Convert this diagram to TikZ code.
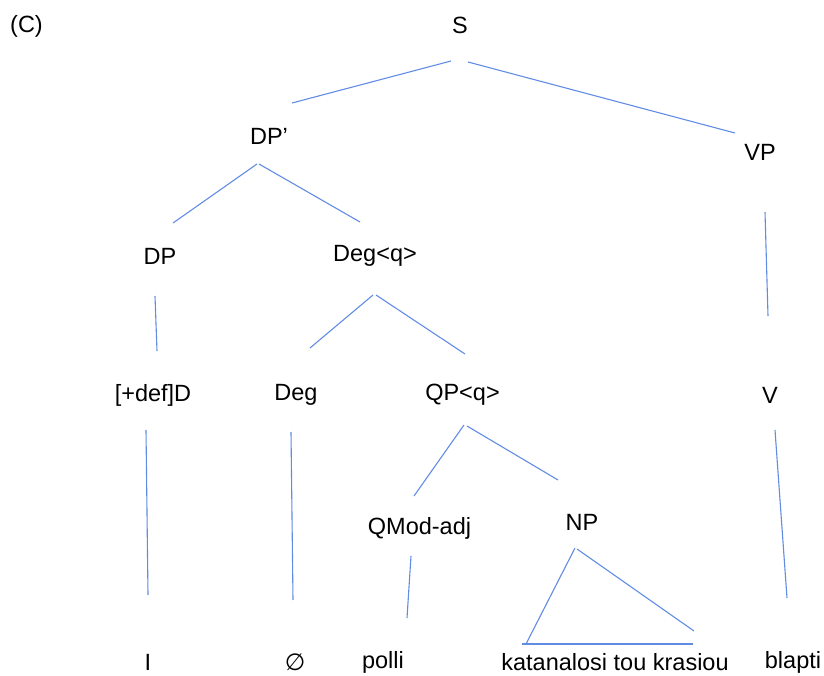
\documentclass[tikz,border=0pt]{standalone}
\usepackage{fontspec}
\setmainfont{Liberation Sans}
\newfontfamily\symfont{DejaVu Sans}
\begin{document}
\begin{tikzpicture}[x=1pt,y=-1pt,
  lbl/.style={inner sep=0pt,font=\fontsize{23.5}{28}\selectfont},
  branch/.style={draw={rgb,255:red,98;green,140;blue,228},line width=1.1pt}]
\useasboundingbox (0,0) rectangle (824,676);
% labels
\node[lbl] (c) at (26.5,26) {(C)};
\node[lbl] (s) at (460,25) {S};
\node[lbl] (dpp) at (269,136) {DP’};
\node[lbl] (vp) at (760,152) {VP};
\node[lbl] (dp) at (160,256) {DP};
\node[lbl] (degq) at (375,256) {Deg<q>};
\node[lbl] (d) at (153,395) {[+def]D};
\node[lbl] (deg) at (296,395) {Deg};
\node[lbl] (qp) at (462.5,395) {QP<q>};
\node[lbl] (v) at (770,395) {V};
\node[lbl] (qmod) at (419.5,528) {QMod-adj};
\node[lbl] (np) at (582,522) {NP};
\node[lbl] (i) at (148,662) {I};
\node[lbl] (null) at (295,662) {\symfont ∅};
\node[lbl] (polli) at (383,662) {polli};
\node[lbl] (kat) at (615,662) {katanalosi tou krasiou};
\node[lbl] (blapti) at (793,662) {blapti};
% branch end points
\coordinate (s1) at (451,61);   \coordinate (s2) at (292,103);
\coordinate (s3) at (468,62);   \coordinate (s4) at (735,133);
\coordinate (p1) at (257,164);  \coordinate (p2) at (173,223);
\coordinate (p3) at (259,164);  \coordinate (p4) at (360,222);
\coordinate (vp1) at (765,212); \coordinate (vp2) at (768,316);
\coordinate (dp1) at (155,296); \coordinate (dp2) at (157,351);
\coordinate (g1) at (373,295);  \coordinate (g2) at (310,348);
\coordinate (g3) at (376,295);  \coordinate (g4) at (465,354);
\coordinate (d1) at (146,430);  \coordinate (d2) at (148,595);
\coordinate (e1) at (291,432);  \coordinate (e2) at (293,600);
\coordinate (q1) at (464,425);  \coordinate (q2) at (414,496);
\coordinate (q3) at (467,426);  \coordinate (q4) at (558,480);
\coordinate (v1) at (775,430);  \coordinate (v2) at (787,598);
\coordinate (m1) at (411,556);  \coordinate (m2) at (407,618);
\coordinate (t1) at (575,548);  \coordinate (t2) at (526,644);
\coordinate (t3) at (577,549);  \coordinate (t4) at (694,631);
\coordinate (b1) at (522,644);  \coordinate (b2) at (693,644);
% branches
\draw[branch] (s1) -- (s2);
\draw[branch] (s3) -- (s4);
\draw[branch] (p1) -- (p2);
\draw[branch] (p3) -- (p4);
\draw[branch] (vp1) -- (vp2);
\draw[branch] (dp1) -- (dp2);
\draw[branch] (g1) -- (g2);
\draw[branch] (g3) -- (g4);
\draw[branch] (d1) -- (d2);
\draw[branch] (e1) -- (e2);
\draw[branch] (q1) -- (q2);
\draw[branch] (q3) -- (q4);
\draw[branch] (v1) -- (v2);
\draw[branch] (m1) -- (m2);
% triangle under NP
\draw[branch] (t1) -- (t2);
\draw[branch] (t3) -- (t4);
\draw[branch] (b1) -- (b2);
\end{tikzpicture}
\end{document}
